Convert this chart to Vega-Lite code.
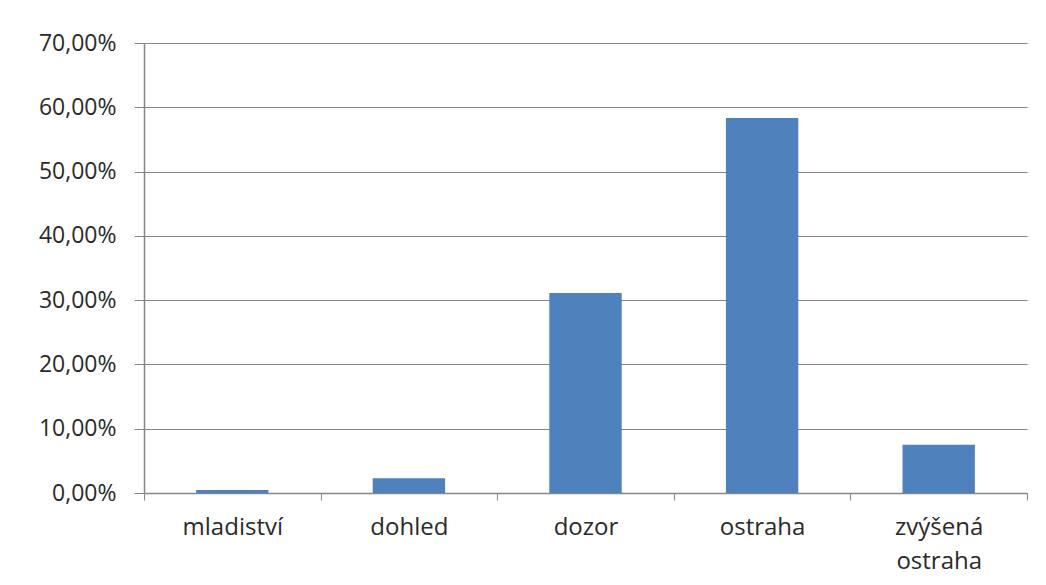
{
  "$schema": "https://vega.github.io/schema/vega-lite/v6.json",
  "width": 883,
  "height": 450,
  "autosize": {"type": "none"},
  "padding": {"left": 144, "top": 43, "right": 19, "bottom": 92},
  "background": "white",
  "config": {
    "view": {"stroke": null},
    "font": "Open Sans"
  },
  "data": {
    "values": [
      {"kategorie": "mladiství", "podil": 0.47},
      {"kategorie": "dohled", "podil": 2.3},
      {"kategorie": "dozor", "podil": 31.1},
      {"kategorie": "ostraha", "podil": 58.35},
      {"kategorie": "zvýšená ostraha", "podil": 7.5}
    ]
  },
  "mark": {"type": "bar", "color": "#4F81BD", "width": {"band": 0.41}},
  "encoding": {
    "x": {
      "field": "kategorie",
      "type": "nominal",
      "sort": null,
      "title": null,
      "scale": {"paddingInner": 0, "paddingOuter": 0},
      "axis": {
        "labelAngle": 0,
        "labelFontSize": 24,
        "labelColor": "#2a2a2a",
        "labelPadding": 15,
        "labelLineHeight": 34,
        "labelExpr": "datum.label == 'zvýšená ostraha' ? ['zvýšená', 'ostraha'] : datum.label",
        "domainColor": "#868686",
        "domainWidth": 1.5,
        "tickColor": "#868686",
        "tickSize": 7,
        "tickBand": "extent",
        "grid": false
      }
    },
    "y": {
      "field": "podil",
      "type": "quantitative",
      "title": null,
      "scale": {"domain": [0, 70], "nice": false},
      "axis": {
        "values": [0, 10, 20, 30, 40, 50, 60, 70],
        "labelExpr": "replace(format(datum.value, '.2f'), '.', ',') + '%'",
        "labelFontSize": 23,
        "labelColor": "#2a2a2a",
        "labelPadding": 18,
        "domainColor": "#868686",
        "domainWidth": 1.5,
        "tickColor": "#868686",
        "tickSize": 10,
        "grid": true,
        "gridColor": "#868686",
        "gridWidth": 1.2
      }
    }
  }
}
